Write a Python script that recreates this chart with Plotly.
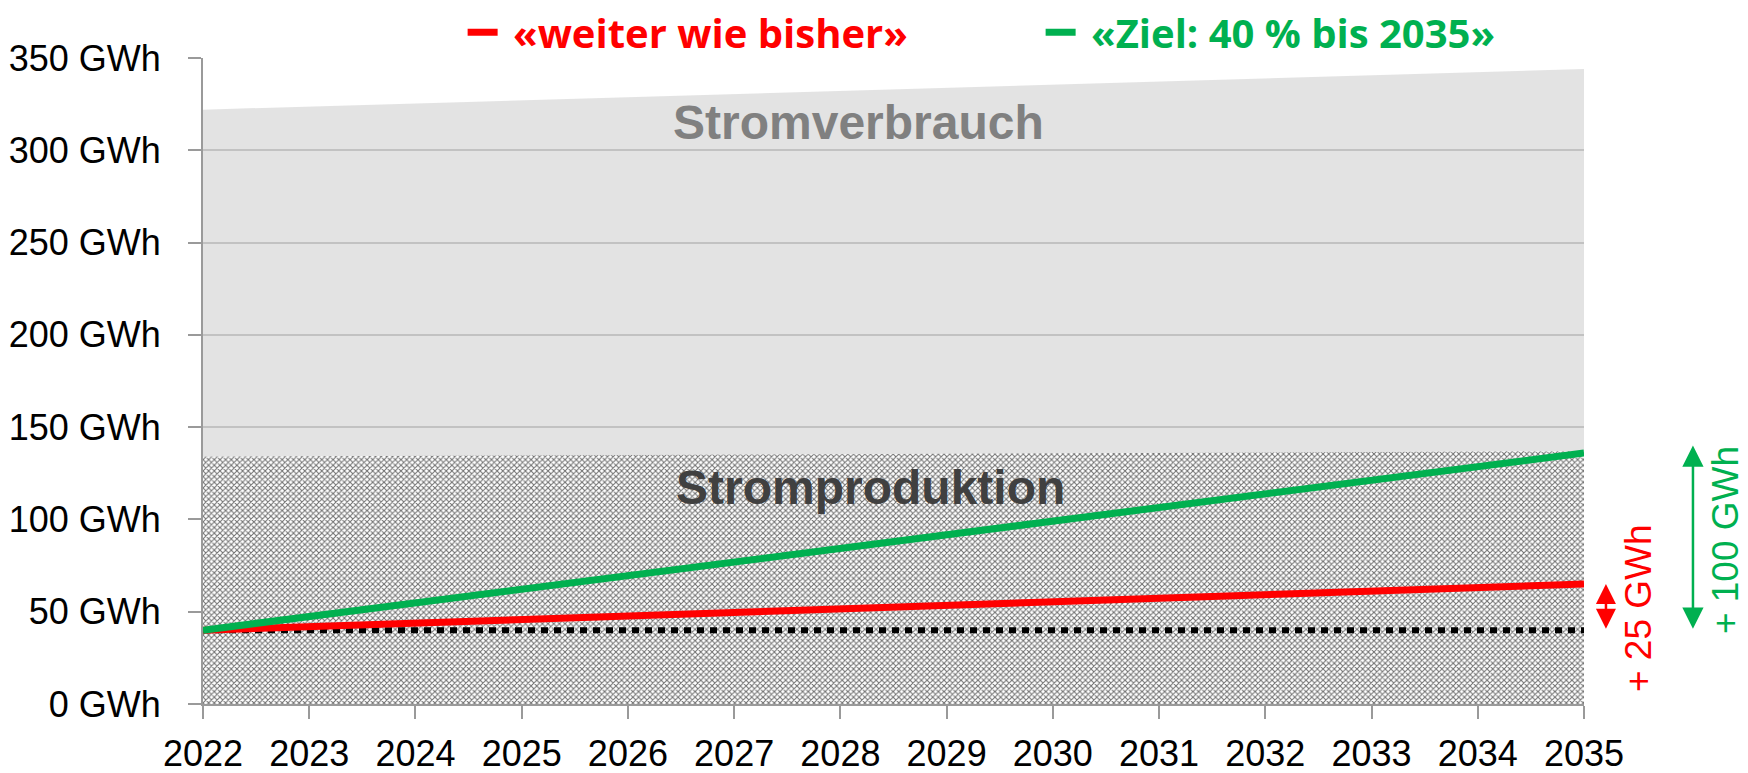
import plotly.graph_objects as go

# Jahre (Endpunkte der linearen Verläufe)
years = [2022, 2035]

# Werte in GWh
verbrauch = [322, 344]
produktion = [134, 137]
bisher = [40, 65]
ziel = [40, 136]
basis = [40, 40]

tick_years = list(range(2022, 2036))
y_ticks = [0, 50, 100, 150, 200, 250, 300, 350]
y_labels = [f"{v} GWh" for v in y_ticks]

RED = "#ff0000"
GREEN = "#00b050"
AXIS_GRAY = "#9a9a9a"
TICK_FONT = "Liberation Sans, Arial, sans-serif"

fig = go.Figure()

fig.add_trace(go.Scatter(
    x=years, y=verbrauch, mode="lines", fill="tozeroy",
    fillcolor="rgba(190,190,190,0.43)", line=dict(width=0),
    showlegend=False, hoverinfo="skip"
))

fig.add_trace(go.Scatter(
    x=years, y=produktion, mode="lines", fill="tozeroy",
    fillcolor="white", line=dict(width=0),
    fillpattern=dict(shape="x", size=4, solidity=0.45, fgcolor="#707070",
                     bgcolor="white", fillmode="replace"),
    showlegend=False, hoverinfo="skip"
))

fig.add_trace(go.Scatter(
    x=years, y=basis, mode="lines",
    line=dict(color="black", width=6, dash="7px,6px"),
    showlegend=False
))

fig.add_trace(go.Scatter(
    x=years, y=bisher, mode="lines",
    name="<span style='color:#ff0000'> «weiter wie bisher»</span>",
    line=dict(color=RED, width=7)
))

fig.add_trace(go.Scatter(
    x=years, y=ziel, mode="lines",
    name="<span style='color:#00b050'> «Ziel: 40 % bis 2035»</span>",
    line=dict(color=GREEN, width=7)
))

# Beschriftungen der Flächen
fig.add_annotation(x=2028.17, y=315, text="<b>Stromverbrauch</b>", showarrow=False,
                   font=dict(family="Liberation Sans, Arial", size=48, color="#808080"))
fig.add_annotation(x=2028.28, y=117.5, text="<b>Stromproduktion</b>", showarrow=False,
                   font=dict(family="Liberation Sans, Arial", size=48, color="#404040"))

# Doppelpfeile für die Zunahme (rechts neben der Zeichenfläche)
fig.add_annotation(xref="paper", x=1.0159, y=bisher[-1], ax=0, ayref="y", ay=basis[-1],
                   text="", showarrow=True, arrowhead=2, arrowside="end+start",
                   startarrowhead=2, arrowsize=1.6, startarrowsize=1.6,
                   arrowwidth=2.5, arrowcolor=RED)
fig.add_annotation(xref="paper", x=1.0789, y=basis[-1] + 100, ax=0, ayref="y", ay=basis[-1],
                   text="", showarrow=True, arrowhead=2, arrowside="end+start",
                   startarrowhead=2, arrowsize=1.7, startarrowsize=1.7,
                   arrowwidth=2.5, arrowcolor=GREEN)
fig.add_annotation(xref="paper", x=1.0391, y=52, text="+ 25 GWh", textangle=-90,
                   xanchor="center", yanchor="middle", showarrow=False,
                   font=dict(family=TICK_FONT, size=37, color=RED))
fig.add_annotation(xref="paper", x=1.1021, y=88.8, text="+ 100 GWh", textangle=-90,
                   xanchor="center", yanchor="middle", showarrow=False,
                   font=dict(family=TICK_FONT, size=37, color=GREEN))

fig.update_layout(
    width=1748, height=773,
    margin=dict(l=203, r=164, t=58, b=69, autoexpand=False),
    plot_bgcolor="white", paper_bgcolor="white",
    legend=dict(
        orientation="h", x=0.188, xanchor="left", y=1.04, yanchor="middle",
        font=dict(family="Open Sans, sans-serif", size=40, weight="bold"),
        entrywidth=533, entrywidthmode="pixels", bgcolor="rgba(0,0,0,0)"
    ),
    xaxis=dict(
        range=[2022, 2035], tickvals=tick_years, showgrid=False,
        showline=True, linecolor=AXIS_GRAY, linewidth=2,
        ticks="outside", ticklen=13, tickwidth=2, tickcolor=AXIS_GRAY,
        tickfont=dict(family=TICK_FONT, size=36, color="black"),
        ticklabelstandoff=4, zeroline=False, automargin=False
    ),
    yaxis=dict(
        range=[0, 350], tickvals=y_ticks, ticktext=y_labels,
        showgrid=True, gridcolor="#c6c6c6", gridwidth=1.5,
        showline=True, linecolor=AXIS_GRAY, linewidth=2,
        ticks="outside", ticklen=13, tickwidth=2, tickcolor=AXIS_GRAY,
        tickfont=dict(family=TICK_FONT, size=36, color="black"),
        ticklabelstandoff=20, zeroline=False, automargin=False
    ),
)

# Seitenrand entfernen, damit die Grafik genau ins Fenster passt
fig.write_html("out.html", config={"displayModeBar": False},
               post_script="document.body.style.margin = '0';")
